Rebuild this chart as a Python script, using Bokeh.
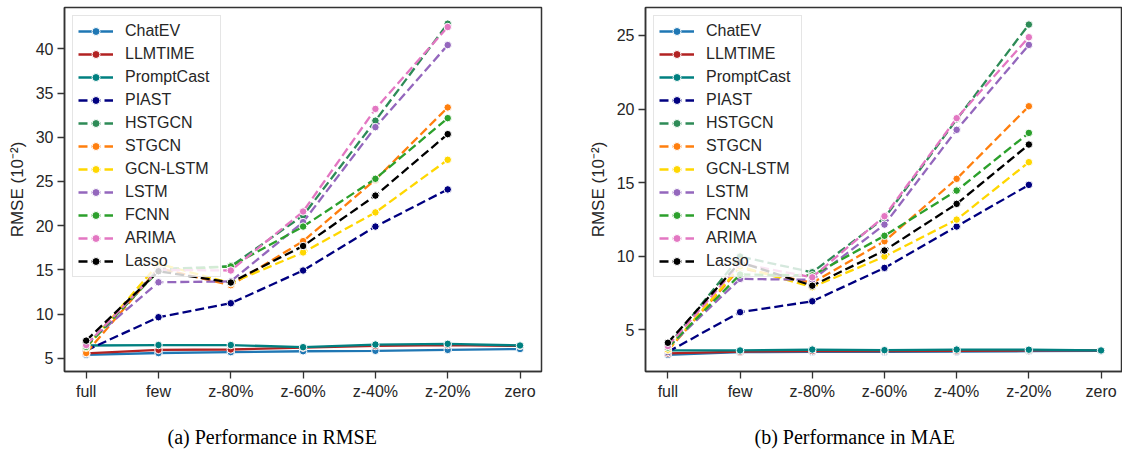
from bokeh.plotting import figure
from bokeh.layouts import row
from bokeh.models import FixedTicker, Legend, LegendItem, Title, Range1d
from bokeh.embed import file_html
from bokeh.resources import INLINE

categories = ["full", "few", "z-80%", "z-60%", "z-40%", "z-20%", "zero"]
methods = ["ChatEV", "LLMTIME", "PromptCast", "PIAST", "HSTGCN", "STGCN",
           "GCN-LSTM", "LSTM", "FCNN", "ARIMA", "Lasso"]
colors = ["#1f77b4", "#b22222", "#008080", "#000080", "#2e8b57", "#ff7f0e",
          "#ffd700", "#9467bd", "#2ca02c", "#e377c2", "#000000"]
dashed = [False, False, False, True, True, True, True, True, True, True, True]

# RMSE (10^-2)
rmse_chatev = [5.4, 5.6, 5.7, 5.8, 5.85, 5.95, 6.05]
rmse_llmtime = [5.55, 5.95, 6.0, 6.2, 6.4, 6.5, 6.4]
rmse_promptcast = [6.45, 6.5, 6.5, 6.26, 6.56, 6.64, 6.45]
rmse_piast = [5.9, 9.65, 11.23, 14.93, 19.9, 24.1]
rmse_hstgcn = [6.4, 15.1, 15.4, 21.15, 31.87, 42.84]
rmse_stgcn = [5.6, 15.2, 13.27, 18.25, 25.2, 33.37]
rmse_gcnlstm = [6.2, 15.7, 13.5, 16.97, 21.5, 27.45]
rmse_lstm = [6.6, 13.6, 13.7, 20.4, 31.14, 40.42]
rmse_fcnn = [6.3, 14.9, 15.4, 19.9, 25.3, 32.16]
rmse_arima = [6.5, 15.0, 14.93, 21.6, 33.2, 42.46]
rmse_lasso = [7.0, 14.85, 13.57, 17.7, 23.4, 30.35]

# MAE (10^-2)
mae_chatev = [3.3, 3.48, 3.5, 3.5, 3.52, 3.55, 3.58]
mae_llmtime = [3.4, 3.52, 3.56, 3.56, 3.58, 3.6, 3.6]
mae_promptcast = [3.6, 3.6, 3.66, 3.62, 3.66, 3.65, 3.6]
mae_piast = [3.5, 6.2, 6.94, 9.21, 12.02, 14.85]
mae_hstgcn = [3.9, 9.98, 8.91, 12.6, 19.3, 25.74]
mae_stgcn = [3.6, 9.2, 8.2, 11.02, 15.26, 20.19]
mae_gcnlstm = [3.66, 9.3, 7.9, 9.98, 12.49, 16.39]
mae_lstm = [3.8, 8.46, 8.4, 12.15, 18.59, 24.36]
mae_fcnn = [3.8, 8.76, 8.7, 11.39, 14.46, 18.38]
mae_arima = [3.9, 9.5, 8.57, 12.72, 19.38, 24.88]
mae_lasso = [4.12, 9.6, 8.0, 10.39, 13.56, 17.59]

rmse_series = [rmse_chatev, rmse_llmtime, rmse_promptcast, rmse_piast, rmse_hstgcn,
               rmse_stgcn, rmse_gcnlstm, rmse_lstm, rmse_fcnn, rmse_arima, rmse_lasso]
mae_series = [mae_chatev, mae_llmtime, mae_promptcast, mae_piast, mae_hstgcn,
              mae_stgcn, mae_gcnlstm, mae_lstm, mae_fcnn, mae_arima, mae_lasso]

FONT = "Liberation Sans"
AXC = "#262626"


def make_panel(series, ylim, yticks, xlim, width, mb_left, mb_right, caption, cap_offset):
    p = figure(width=width, height=454, output_backend="svg", toolbar_location=None,
               x_range=Range1d(*xlim), y_range=Range1d(*ylim),
               min_border_left=mb_left, min_border_right=mb_right,
               min_border_top=7, min_border_bottom=83)
    p.xgrid.visible = False
    p.ygrid.visible = False
    p.outline_line_color = "#333333"
    p.outline_line_width = 1.5
    p.background_fill_color = "white"

    items = []
    for name, col, dash, vals in zip(methods, colors, dashed, series):
        xs = list(range(len(vals)))
        lr = p.line(xs, vals, line_color=col, line_width=2.3,
                    line_dash="9 4" if dash else "solid")
        sr = p.scatter(xs, vals, size=7.5, fill_color=col, line_color="white", line_width=1)
        items.append(LegendItem(label=name, renderers=[lr, sr]))

    leg = Legend(items=items, location="top_left")
    leg.label_text_font = FONT
    leg.label_text_font_size = "16px"
    leg.label_text_color = AXC
    leg.label_height = 20
    leg.glyph_height = 20
    leg.glyph_width = 35
    leg.label_standoff = 12
    leg.label_width = 90
    leg.spacing = 3
    leg.padding = 5
    leg.margin = 8
    leg.border_line_color = "#cccccc"
    leg.border_line_width = 1
    leg.background_fill_alpha = 0.8
    p.add_layout(leg)

    xa = p.xaxis[0]
    xa.ticker = FixedTicker(ticks=list(range(len(categories))))
    xa.major_label_overrides = {i: c for i, c in enumerate(categories)}
    ya = p.yaxis[0]
    ya.ticker = FixedTicker(ticks=yticks)
    ya.axis_label = "RMSE (10⁻²)"
    ya.axis_label_text_font = FONT
    ya.axis_label_text_font_size = "17px"
    ya.axis_label_text_font_style = "normal"
    ya.axis_label_text_color = AXC
    ya.axis_label_standoff = 6
    for ax in (xa, ya):
        ax.major_label_text_font = FONT
        ax.major_label_text_font_size = "16px"
        ax.major_label_text_color = AXC
        ax.axis_line_color = "#333333"
        ax.axis_line_width = 1.5
        ax.major_tick_line_color = "#333333"
        ax.major_tick_line_width = 1.3
        ax.major_tick_out = 7
        ax.major_tick_in = 0
        ax.minor_tick_out = 0
        ax.minor_tick_in = 0
        ax.major_label_standoff = 4

    spacer = Title(text=" ", standoff=16, text_font_size="1px")
    p.add_layout(spacer, "below")
    t = Title(text=caption, align="left", offset=cap_offset, standoff=4,
              text_font="Liberation Serif", text_font_size="20px",
              text_font_style="normal", text_color="black")
    p.add_layout(t, "below")
    return p


p1 = make_panel(rmse_series, (3.51, 44.67), [5, 10, 15, 20, 25, 30, 35, 40],
                (-0.3, 6.297), 568, 64, 27, "(a)  Performance in RMSE", 103)
p2 = make_panel(mae_series, (2.17, 26.90), [5, 10, 15, 20, 25],
                (-0.31, 6.297), 554, 77, 0, "(b)  Performance in MAE", 109)

p = row(p1, p2)
open("out.html", "w").write(file_html(p, INLINE))
